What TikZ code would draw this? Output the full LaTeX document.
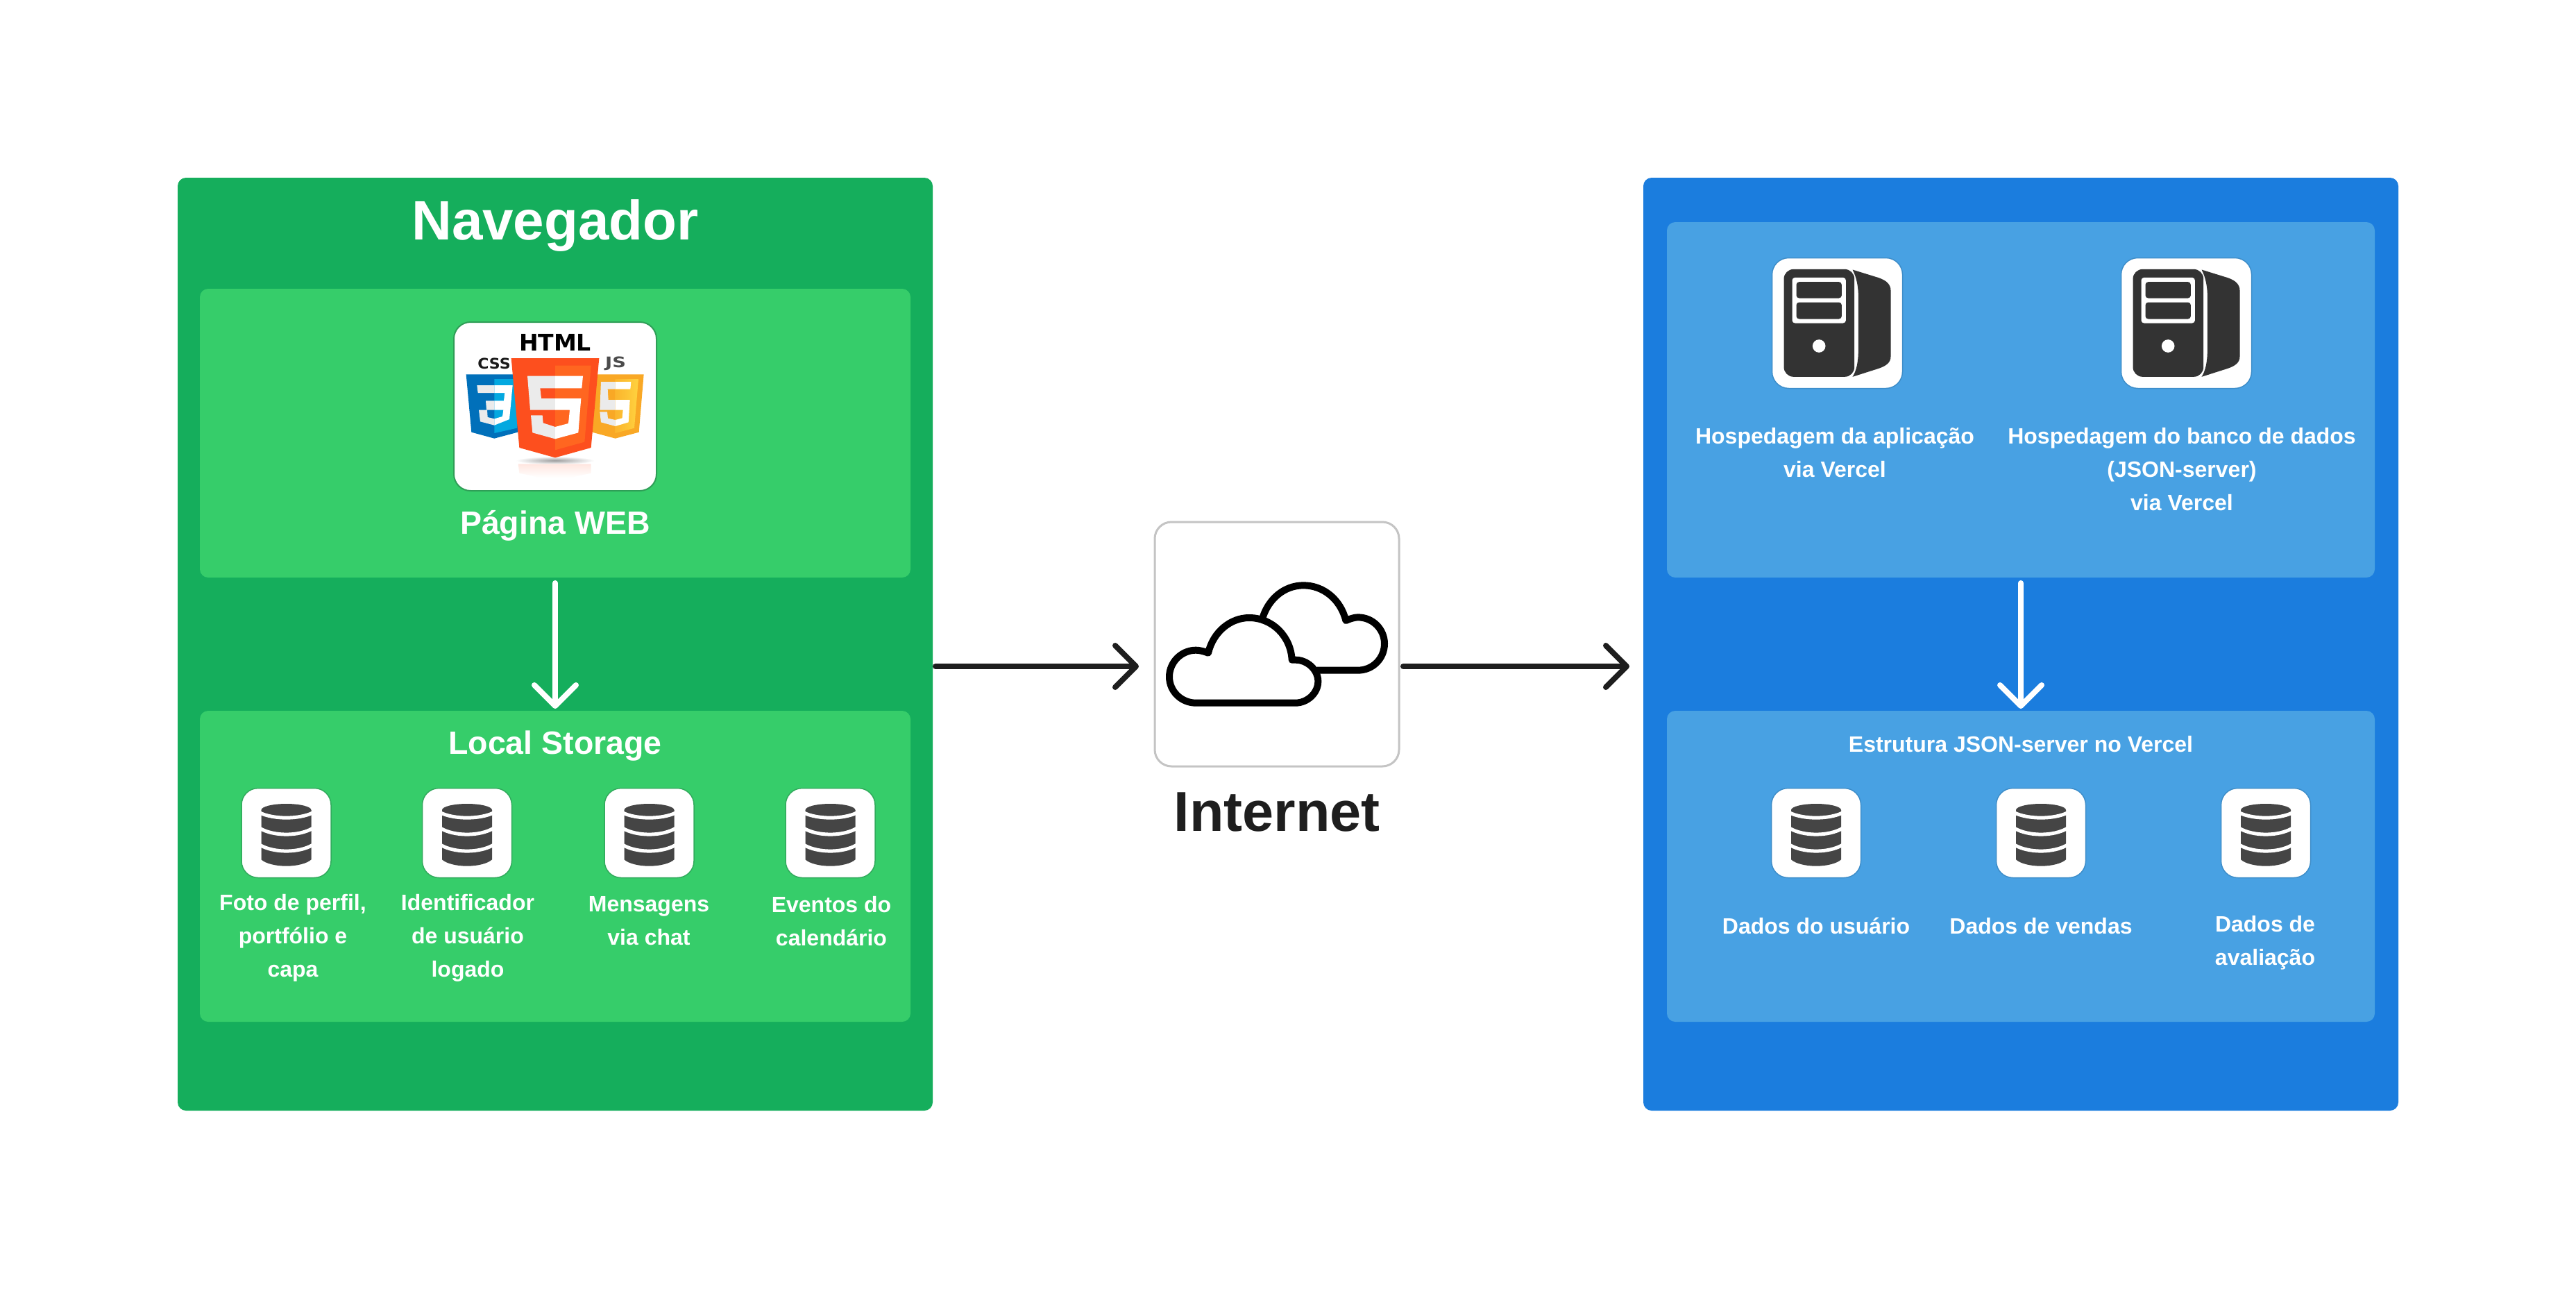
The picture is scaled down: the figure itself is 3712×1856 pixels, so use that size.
\documentclass[tikz,border=0pt]{standalone}
\usepackage{fontspec}
\usetikzlibrary{arrows.meta}
\setmainfont{Liberation Sans}
\newfontfamily\labfont{Liberation Sans}
\newfontfamily\logofont{DejaVu Sans}
\definecolor{gOuter}{HTML}{15AE5C}
\definecolor{gInner}{HTML}{36CD6A}
\definecolor{gRim}{HTML}{2F9E57}
\definecolor{bOuter}{HTML}{1B7DDE}
\definecolor{bInner}{HTML}{48A1E3}
\definecolor{bRim}{HTML}{3A86C0}
\definecolor{inkDark}{HTML}{1E1E1E}
\tikzset{
  x=1pt,y=-1pt,
  panel/.style={inner sep=0pt,outer sep=0pt,rounded corners=12pt,minimum width=#1},
  card/.style={fill=white,inner sep=0pt,outer sep=0pt,rounded corners=24pt,line width=1.5pt},
  lab/.style={text=white,align=center,inner sep=0pt,font=\labfont\bfseries\fontsize{32}{48}\selectfont},
  arrowdark/.style={draw=inkDark,line width=8pt,line cap=round,line join=round,-{Straight Barb[length=30pt,width=60pt,round]}},
  arrowwhite/.style={draw=white,line width=8pt,line cap=round,line join=round,-{Straight Barb[length=30pt,width=60pt,round]}},
  dbicon/.pic={
    \fill[fill=dbgray] (-36,-33) -- (-36,38.3) .. controls (-30,44) and (-15,47.7) .. (0,47.7) .. controls (15,47.7) and (30,44) .. (36,38.3) -- (36,-33) -- cycle;
    \fill[dbgray] (0,-33) ellipse [x radius=36,y radius=9];
    \foreach \s/\c in {-29/-19.5,-6.7/5,17.3/29}
      \draw[white,line width=5pt] (-38,\s) .. controls (-18,\c) and (18,\c) .. (38,\s);
  },
  srvicon/.pic={
    \begin{scope}[scale=.33333,shift={(-381,-346)}]
    \fill[fill=srvgray,rounded corners=14pt] (150,113) rectangle (455,578);
    \fill[white,rounded corners=4pt] (186,149) rectangle (418,346);
    \fill[srvgray,rounded corners=4pt] (204,168) rectangle (400,238);
    \fill[srvgray,rounded corners=4pt] (204,256) rectangle (400,328);
    \fill[white] (302,445) circle [radius=28];
    \fill[srvgray] (447,115) -- (560,150) .. controls (595,162) and (612,180) .. (612,205) -- (612,490) .. controls (612,515) and (595,530) .. (560,542) -- (447,578) .. controls (465,550) and (472,510) .. (472,460) -- (472,230) .. controls (472,190) and (465,150) .. (447,115) -- cycle;
    \end{scope}
  },
}
\colorlet{dbgray}{black!73}
\colorlet{srvgray}{black!80}
\colorlet{gSoft}{gRim!75!gInner}
\colorlet{bSoft}{bRim!75!bInner}
\definecolor{h5a}{HTML}{FD4F1E}
\definecolor{h5b}{HTML}{FF6620}
\definecolor{glyphg}{HTML}{EBEBEB}
\definecolor{c3a}{HTML}{0170BA}
\definecolor{c3b}{HTML}{03A8E0}
\definecolor{j5a}{HTML}{F9A825}
\definecolor{j5b}{HTML}{FFD23F}
\begin{document}
\begin{tikzpicture}
\useasboundingbox (0,0) rectangle (3712,1856);
\fill[white] (0,0) rectangle (3712,1856);
% outer containers
\node[panel=1088pt,minimum height=1344pt,fill=gOuter] (nav) at (800,928) {};
\node[panel=1088pt,minimum height=1344pt,fill=bOuter] (srv) at (2912,928) {};
% inner panels
\node[panel=1024pt,minimum height=416pt,fill=gInner] (page) at (800,624) {};
\node[panel=1024pt,minimum height=448pt,fill=gInner] (storage) at (800,1248) {};
\node[panel=1020pt,minimum height=512pt,fill=bInner] (host) at (2912,576) {};
\node[panel=1020pt,minimum height=448pt,fill=bInner] (json) at (2912,1248) {};
% internet card
\node[card,draw=black!23,line width=3pt,minimum width=352pt,minimum height=352pt] (inet) at (1840,928) {};
% cloud
\begin{scope}[shift={(1640,730)},scale=.33333]
\draw[black,line width=10pt,line cap=round,line join=round] (540,475) .. controls (565,400) and (630,340) .. (715,340) .. controls (800,340) and (875,400) .. (898,492) .. controls (915,485) and (935,478) .. (950,478) .. controls (1015,478) and (1065,530) .. (1065,592) .. controls (1065,655) and (1015,707) .. (950,707) -- (775,707);
\draw[black,line width=10pt,line cap=round,line join=round] (250,848) -- (680,848) .. controls (731,848) and (778,806) .. (778,755) .. controls (778,704) and (731,662) .. (680,662) -- (665,662) .. controls (660,560) and (580,480) .. (480,480) .. controls (400,480) and (325,540) .. (303,632) .. controls (285,625) and (265,620) .. (250,620) .. controls (187,620) and (135,672) .. (135,735) .. controls (135,798) and (187,848) .. (250,848) -- cycle;
\end{scope}
% html card
\node[card,draw=gRim,line width=2pt,minimum width=292pt,minimum height=243pt] (htmlcard) at (800,585.5) {};
\begin{scope}[shift={(620,440)},scale=.33333]
\shade[inner color=black!38,outer color=white] (540,670) ellipse [x radius=170,y radius=17];
\shade[top color=h5a!14,bottom color=white] (380,685) -- (695,685) -- (695,725) -- (600,745) -- (480,745) -- (385,725) -- cycle;
% css shield
\fill[c3a] (155,298) -- (400,298) -- (378,548) -- (277,575) -- (178,548) -- cycle;
\fill[c3b] (277,318) -- (395,318) -- (375,530) -- (277,552) -- cycle;
\fill[glyphg] (202,345) -- (277,345) -- (277,378) -- (206,378) -- cycle;
\fill[glyphg] (240,412) -- (277,412) -- (277,452) -- (243,452) -- cycle;
\fill[glyphg] (210,452) -- (246,452) -- (248,483) -- (277,490) -- (277,518) -- (216,502) -- cycle;
\fill[white] (277,345) -- (356,345) -- (350,410) -- (342,492) -- (277,518) -- (277,490) -- (312,480) -- (316,452) -- (277,452) -- (277,412) -- (318,412) -- (322,378) -- (277,378) -- cycle;
% js shield
\fill[j5a] (700,298) -- (923,298) -- (902,548) -- (800,575) -- (700,548) -- cycle;
\shade[left color=j5a!70!j5b,right color=j5b] (800,318) -- (900,318) -- (882,530) -- (800,552) -- cycle;
\fill[glyphg] (738,330) -- (800,330) -- (800,362) -- (767,362) -- (770,408) -- (800,408) -- (800,452) -- (733,452) -- cycle;
\fill[glyphg] (733,460) -- (765,460) -- (768,488) -- (800,495) -- (800,522) -- (738,505) -- cycle;
\fill[white] (800,330) -- (868,330) -- (865,362) -- (800,362) -- cycle;
\fill[white] (800,408) -- (863,408) -- (857,505) -- (800,522) -- (800,495) -- (830,487) -- (833,452) -- (800,452) -- cycle;
% html shield
\fill[h5a] (350,228) -- (730,228) -- (695,615) -- (540,658) -- (385,615) -- cycle;
\fill[h5b] (540,260) -- (695,260) -- (667,590) -- (540,625) -- cycle;
\fill[glyphg] (420,305) -- (540,305) -- (540,358) -- (475,358) -- (480,402) -- (540,402) -- (540,452) -- (432,452) -- cycle;
\fill[glyphg] (435,475) -- (485,475) -- (488,508) -- (540,525) -- (540,577) -- (442,550) -- cycle;
\fill[white] (540,305) -- (660,305) -- (655,358) -- (540,358) -- cycle;
\fill[white] (540,402) -- (652,402) -- (640,550) -- (540,577) -- (540,525) -- (597,510) -- (603,452) -- (540,452) -- cycle;
\end{scope}
\node[inner sep=0pt,font=\logofont\bfseries\fontsize{33}{33}\selectfont,text=black] (htmltxt) at (800,493) {HTML};
\node[inner sep=0pt,font=\logofont\bfseries\fontsize{21}{21}\selectfont,text=black!90,xscale=1.05,transform shape] (csstxt) at (712,524) {CSS};
\node[inner sep=0pt,font=\logofont\bfseries\fontsize{21}{21}\selectfont,text=black!70,xscale=1.3,transform shape] (jstxt) at (887,524) {JS};
% server cards
\node[card,draw=bSoft,minimum width=188pt,minimum height=188pt] (srv1) at (2647.5,465.5) {};
\node[card,draw=bSoft,minimum width=188pt,minimum height=188pt] (srv2) at (3150.5,465.5) {};
\pic at (srv1.center) {srvicon};
\pic at (srv2.center) {srvicon};
% db cards
\foreach \n/\xx in {d1/412.5,d2/673,d3/935.5,d4/1196.5}{
  \node[card,draw=gSoft,minimum width=129pt,minimum height=129pt] (\n) at (\xx,1200) {};
  \pic at (\n.center) {dbicon};
}
\foreach \n/\xx in {e1/2617,e2/2941,e3/3265}{
  \node[card,draw=bSoft,minimum width=129pt,minimum height=129pt] (\n) at (\xx,1200) {};
  \pic at (\n.center) {dbicon};
}
% arrows
\coordinate (ylevel) at (0,960);
\draw[arrowdark,shorten <=4pt,shorten >=23pt] (nav.east |- ylevel) -- (inet.west |- ylevel);
\draw[arrowdark,shorten <=6pt,shorten >=20pt] (inet.east |- ylevel) -- (srv.west |- ylevel);
\draw[arrowwhite,shorten <=8pt,shorten >=3pt] (page.south) -- (storage.north);
\draw[arrowwhite,shorten <=8pt,shorten >=3pt] (host.south) -- (json.north);
% titles
\node[lab,font=\labfont\bfseries\fontsize{80}{96}\selectfont] (tnav) at (800,325) {Navegador};
\node[lab,text=inkDark,font=\labfont\bfseries\fontsize{81}{96}\selectfont] (tinet) at (1840,1170) {Internet};
\node[lab,font=\labfont\bfseries\fontsize{46.5}{60}\selectfont] (tpage) at (800,757) {Página WEB};
\node[lab,font=\labfont\bfseries\fontsize{46.5}{60}\selectfont] (tstore) at (800,1075) {Local Storage};
\node[lab] (tjson) at (2912,1072) {Estrutura JSON-server no Vercel};
% labels
\node[lab] (l1) at (422,1351) {Foto de perfil,\\portfólio e\\capa};
\node[lab] (l2) at (674,1351) {Identificador\\de usuário\\logado};
\node[lab] (l3) at (935,1327) {Mensagens\\via chat};
\node[lab] (l4) at (1198,1327) {Eventos do\\calendário};
\node[lab] (l5) at (2644,652) {Hospedagem da aplicação\\via Vercel};
\node[lab] (l6) at (3144,676) {Hospedagem do banco de dados\\(JSON-server)\\via Vercel};
\node[lab] (l7) at (2617,1334) {Dados do usuário};
\node[lab] (l8) at (2941,1334) {Dados de vendas};
\node[lab] (l9) at (3264,1358) {Dados de\\avaliação};
\end{tikzpicture}
\end{document}
